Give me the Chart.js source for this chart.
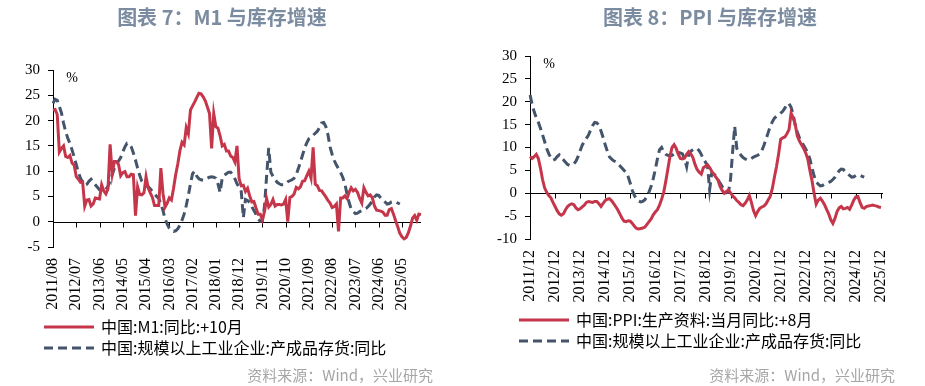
<!DOCTYPE html>
<html>
<head>
<meta charset="utf-8">
<script src="https://cdn.jsdelivr.net/npm/chart.js@4.4.1/dist/chart.umd.min.js"></script>
<style>
  body { margin: 0; background: #fff; }
  #page { position: relative; width: 925px; height: 386px; overflow: hidden; font-family: "Noto Sans CJK SC", sans-serif; }
  canvas { position: absolute; top: 0; }
  .title { position: absolute; top: 4px; line-height: 26px; font-size: 20px; font-weight: bold; color: #7b8ba0; white-space: nowrap; transform: translateX(-50%); }
  .source { position: absolute; top: 364px; line-height: 22px; font-size: 15px; color: #a6a6a6; white-space: nowrap; transform: translateX(-100%); }
</style>
</head>
<body>
<div id="page">
  <canvas id="chart-m1" width="462" height="386" style="left:0"></canvas>
  <canvas id="chart-ppi" width="463" height="386" style="left:462px"></canvas>
  <div class="title" style="left:222px">图表 7：M1 与库存增速</div>
  <div class="title" style="left:710px">图表 8：PPI 与库存增速</div>
  <div class="source" style="left:433px">资料来源：Wind，兴业研究</div>
  <div class="source" style="left:895px">资料来源：Wind，兴业研究</div>
</div>
<script>
// M1 yoy, shifted +10 months (M1 2010/10 .. 2025/04 -> plotted 2011/08 .. 2026/02)
const m1Values = [
  22.1, 22.2, 21.2,
  13.8, 14.5, 15.0, 12.9, 12.7, 13.1, 11.6, 11.2, 8.9, 8.4, 7.8, 7.9,
  3.1, 4.3, 4.4, 3.1, 3.5, 4.7, 4.6, 4.5, 7.3, 6.1, 5.5, 6.5,
  15.3, 9.5, 11.9, 11.9, 11.3, 9.1, 9.7, 9.9, 8.9, 8.9, 9.4, 9.3,
  1.2, 6.9, 5.4, 5.3, 5.7, 8.9, 6.7, 5.7, 4.8, 3.2, 3.2, 3.2,
  10.6, 5.6, 2.9, 3.7, 4.7, 4.3, 6.6, 9.3, 11.4, 14.0, 15.7, 15.2,
  18.6, 17.4, 22.1, 22.9, 23.7, 24.6, 25.4, 25.3, 24.7, 23.9, 22.7, 21.4,
  14.5, 21.4, 18.8, 18.5, 17.0, 15.0, 15.3, 14.0, 14.0, 13.0, 12.7, 11.8,
  15.0, 8.5, 7.1, 7.2, 6.0, 6.6, 5.1, 3.9, 4.0, 2.7, 1.5, 1.5,
  0.4, 2.0, 4.6, 2.9, 3.4, 4.4, 3.1, 3.4, 3.4, 3.3, 3.5, 4.4,
  0.0, 4.8, 5.0, 5.5, 6.8, 6.5, 6.9, 8.0, 8.1, 9.1, 10.0, 8.6,
  14.7, 7.4, 7.1, 6.2, 6.1, 5.5, 4.9, 4.2, 3.7, 2.8, 3.0, 3.5,
  -1.9, 4.7, 4.7, 5.1, 4.6, 5.8, 6.7, 6.1, 6.4, 5.8, 4.6, 3.7,
  6.7, 5.8, 5.1, 5.3, 4.7, 3.1, 2.3, 2.2, 2.1, 1.9, 1.3, 1.3,
  2.4, 2.6, 1.5, 0.2, -1.0, -2.3, -3.0, -3.4, -3.1, -2.2, -0.9, 0.7,
  1.2, 0.3, 1.5, 1.4
];

// industrial finished goods inventory yoy, 2011/08 .. 2025/04
const inventoryValues = [
  23.4, 24.2, 24.0, 22.8, 21.5,
  19.5, 17.8, 16.5, 15.5, 14.2, 12.8, 11.3, 9.8, 8.6, 7.8, 7.2, 7.4,
  8.0, 8.4, 7.8, 7.3, 6.8, 6.3, 6.1, 6.2, 6.4, 7.0, 8.0, 9.3,
  10.5, 11.3, 12.0, 12.7, 13.8, 14.8, 15.5, 15.4, 14.8, 13.6, 12.2, 10.6,
  9.2, 8.0, 7.5, 7.1, 6.9, 6.5, 6.0, 5.5, 5.0, 4.6, 3.6, 2.2,
  0.6, -0.5, -1.3, -1.7, -1.9, -1.8, -1.4, -0.7, 0.3, 1.5, 3.2, 5.2,
  7.5, 9.5, 10.0, 9.0, 8.5, 8.3, 8.2, 8.3, 8.6, 8.8, 8.9, 8.8,
  8.6, 7.5, 5.8, 8.6, 9.2, 9.5, 9.8, 9.8, 9.3, 8.5, 7.5, 6.8,
  6.0, 0.8, 4.4, 4.2, 3.8, 3.0, 2.2, 1.5, 0.6, 0.1, 0.2, 3.0,
  9.0, 14.6, 9.8, 9.0, 8.3, 7.8, 7.5, 7.3, 7.3, 7.6, 7.9, 8.1,
  8.3, 8.6, 9.3, 10.5, 11.8, 13.2, 14.6, 15.6, 16.4, 16.8, 17.1, 17.5,
  17.9, 18.6, 19.5, 19.6, 18.8, 17.2, 14.8, 13.3, 12.1, 11.2, 10.5, 9.7,
  8.8, 7.5, 5.5, 3.8, 2.5, 2.0, 1.6, 1.7, 2.0, 2.2, 2.4, 2.6,
  3.0, 3.5, 4.2, 4.9, 5.3, 5.2, 4.7, 4.3, 3.9, 3.5, 3.6, 3.9,
  4.0, 3.9, 3.7, 3.5
];

// producer goods PPI yoy, shifted +8 months (plotted 2011/12 .. 2025/12)
const ppiValues = [
  8.0,
  7.6, 8.0, 8.5, 7.6, 5.5, 3.0, 1.2, 0.2, -0.5, -1.0, -2.0, -2.9,
  -3.8, -4.5, -4.8, -4.5, -3.6, -2.9, -2.5, -2.3, -2.5, -3.2, -3.6, -3.4,
  -3.0, -2.6, -2.0, -1.8, -1.9, -2.0, -1.8, -1.8, -2.3, -2.9, -2.2, -1.6,
  -1.3, -1.2, -1.6, -2.2, -2.9, -3.6, -4.5, -5.4, -6.1, -6.2, -6.0, -6.1,
  -6.6, -7.2, -7.7, -7.8, -7.7, -7.6, -7.4, -6.8, -6.2, -5.6, -4.7, -4.1,
  -3.6, -2.6, -1.3, 0.2, 2.6, 5.3, 8.0, 10.0, 10.6, 9.8, 8.5, 7.6,
  7.5, 7.7, 8.5, 9.1, 8.6, 7.8, 6.3, 5.2, 4.6, 4.2, 5.6, 5.9,
  6.2, 5.6, 4.8, 4.2, 3.5, 2.9, 1.5, 0.6, 0.0, 0.4, 0.7, 0.1,
  -0.6, -1.0, -1.6, -2.0, -2.5, -2.7, -2.2, -1.5, -0.5, -2.0, -3.8, -4.9,
  -4.0, -3.3, -3.0, -2.8, -2.3, -1.5, -0.7, 1.0, 3.5, 5.8, 8.5, 11.8,
  12.1, 12.3, 13.0, 13.9, 17.5, 16.5, 15.0, 12.5, 11.4, 10.6, 9.8, 8.8,
  7.5, 5.0, 2.8, 0.0, -2.4, -1.5, -1.1, -1.7, -2.5, -3.5, -4.5, -5.8,
  -6.6, -5.5, -4.0, -3.2, -2.9, -3.4, -3.3, -3.1, -3.5, -2.6, -1.5, -0.8,
  -0.7, -2.0, -3.1, -3.3, -2.9, -2.8, -2.7, -2.6, -2.7, -2.8, -3.0, -3.1
];

function monthLabels(startYear, startMonth, count) {
  const out = [];
  for (let k = 0; k < count; k++) {
    const m = startMonth - 1 + k;
    out.push((startYear + Math.floor(m / 12)) + '/' + String(m % 12 + 1).padStart(2, '0'));
  }
  return out;
}

const m1Labels = monthLabels(2011, 8, 175);
const ppiLabels = monthLabels(2011, 12, 170);

const RED = '#c6364b';
const SLATE = '#44546a';

// small line images used as legend symbols (the built-in line style drops the dash)
function legendSample(color, dash) {
  const c = document.createElement('canvas');
  c.width = 50;
  c.height = 4;
  const g = c.getContext('2d');
  g.strokeStyle = color;
  g.lineWidth = 3;
  g.setLineDash(dash);
  g.beginPath();
  g.moveTo(0, 2);
  g.lineTo(50, 2);
  g.stroke();
  return c;
}
const legendSolid = legendSample(RED, []);
const legendDashed = legendSample(SLATE, [9, 5]);

// zero line with its tick marks, the "%" unit, and the legend offset
function axisExtras(step, legendLeft) {
  return {
    id: 'axisExtras',
    afterLayout(chart) {
      chart.legend.left = legendLeft;
    },
    beforeDatasetsDraw(chart) {
      const { ctx, chartArea, scales } = chart;
      const y0 = Math.round(scales.y.getPixelForValue(0)) + 0.5;
      ctx.save();
      ctx.strokeStyle = '#000';
      ctx.lineWidth = 1;
      ctx.beginPath();
      ctx.moveTo(chartArea.left, y0);
      ctx.lineTo(chartArea.right, y0);
      for (let i = step; i < chart.data.labels.length; i += step) {
        const x = Math.round(scales.x.getPixelForValue(i)) + 0.5;
        ctx.moveTo(x, y0);
        ctx.lineTo(x, y0 + 5);
      }
      ctx.stroke();
      ctx.fillStyle = '#000';
      ctx.font = '14px "Liberation Serif"';
      ctx.textAlign = 'center';
      ctx.textBaseline = 'middle';
      ctx.fillText('%', chartArea.left + 19, chartArea.top + 8);
      ctx.restore();
    }
  };
}

function buildChart(id, o) {
  return new Chart(document.getElementById(id), {
    type: 'line',
    data: {
      labels: o.labels,
      datasets: [
        { label: o.redLabel, data: o.red, borderColor: RED, backgroundColor: RED, borderWidth: 3, pointRadius: 0, tension: 0 },
        { label: '中国:规模以上工业企业:产成品存货:同比', data: o.dashed, borderColor: SLATE, backgroundColor: SLATE, borderWidth: 3, borderDash: [9, 5], pointRadius: 0, tension: 0 }
      ]
    },
    options: {
      responsive: false,
      animation: false,
      layout: { padding: o.padding },
      scales: {
        x: {
          afterFit(scale) { scale.height = o.xHeight; },
          border: { display: false },
          grid: { display: false, drawTicks: false },
          ticks: {
            autoSkip: false, minRotation: 90, maxRotation: 90, padding: 11, color: '#000',
            font: { family: '"Liberation Serif", serif', size: 16 },
            callback(value, index) { return index % o.step === 0 ? this.getLabelForValue(value) : null; }
          }
        },
        y: {
          min: o.min, max: 30,
          afterFit(scale) { scale.width = o.yWidth; },
          border: { display: true, color: '#000', width: 1 },
          grid: { drawOnChartArea: false, drawTicks: true, tickLength: 5, color: '#000' },
          ticks: { stepSize: 5, padding: 8, color: '#000', font: { family: '"Liberation Serif", serif', size: 15 } }
        }
      },
      plugins: {
        tooltip: { enabled: false },
        legend: {
          position: 'bottom',
          align: 'start',
          labels: {
            usePointStyle: true,
            pointStyleWidth: 48,
            padding: 5,
            color: '#000',
            font: { family: '"Noto Sans CJK SC", sans-serif', size: 16 },
            generateLabels(chart) {
              const items = Chart.defaults.plugins.legend.labels.generateLabels(chart);
              items[0].pointStyle = legendSolid;
              items[1].pointStyle = legendDashed;
              return items;
            }
          }
        }
      }
    },
    plugins: [axisExtras(o.step, o.legendLeft)]
  });
}

buildChart('chart-m1', {
  labels: m1Labels,
  red: m1Values,
  dashed: inventoryValues,
  redLabel: '中国:M1:同比:+10月',
  min: -5, step: 11,
  padding: { left: 0, right: 41, top: 70, bottom: 20 },
  yWidth: 53, xHeight: 67, legendLeft: 40
});

buildChart('chart-ppi', {
  labels: ppiLabels,
  red: ppiValues,
  dashed: inventoryValues.slice(4),
  redLabel: '中国:PPI:生产资料:当月同比:+8月',
  min: -10, step: 12,
  padding: { left: 0, right: 42, top: 56, bottom: 27 },
  yWidth: 68, xHeight: 68, legendLeft: 53
});
</script>
</body>
</html>
